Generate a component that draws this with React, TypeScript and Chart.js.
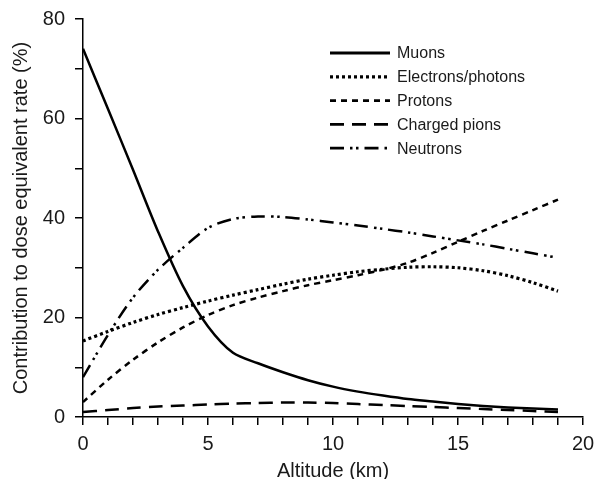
import React, { useEffect, useRef } from "react";
import { Chart, registerables } from "chart.js";

Chart.register(...registerables);

const altitudes = [0, 1, 2, 3, 4, 5, 6, 7, 8, 9, 10, 11, 12, 13, 14, 15, 16, 17, 18, 19];
const muons = [74, 61.9, 49.7, 37.3, 26.3, 18.2, 12.9, 10.8, 9.0, 7.4, 6.1, 5.1, 4.3, 3.6, 3.1, 2.6, 2.2, 1.9, 1.7, 1.5];
const electrons = [15.3, 17.2, 19, 20.6, 22, 23.3, 24.5, 25.6, 26.7, 27.7, 28.5, 29.2, 29.7, 30.1, 30.2, 30, 29.4, 28.4, 27, 25.3];
const protons = [3, 7.5, 11.5, 15, 18, 20.5, 22.5, 24, 25.3, 26.5, 27.5, 28.5, 29.6, 31, 33, 35.2, 37.4, 39.5, 41.6, 43.7];
const pions = [1, 1.4, 1.8, 2.1, 2.3, 2.5, 2.7, 2.8, 2.9, 2.9, 2.8, 2.6, 2.4, 2.2, 2.0, 1.8, 1.6, 1.4, 1.2, 1.0];
const neutrons = [8, 16.5, 24, 29.6, 34, 38, 39.8, 40.3, 40.2, 39.7, 39.1, 38.5, 37.8, 37.1, 36.3, 35.5, 34.7, 33.8, 32.9, 32];

const seriesNames = ["Muons", "Electrons/photons", "Protons", "Charged pions", "Neutrons"];
const xTitle = "Altitude (km)";
const yTitle = "Contribution to dose equivalent rate (%)";

const FONT = "'Liberation Sans', Arial, Helvetica, sans-serif";

const styles = [
  { dash: [], width: 2.5 },
  { dash: [3, 3], width: 3.2 },
  { dash: [6, 5], width: 2.5 },
  { dash: [14, 8], width: 2.5 },
  { dash: [14, 6, 2.5, 3.5, 2.5, 6], width: 2.5 },
];

const legendPlugin = {
  id: "customLegend",
  afterDraw(chart: any) {
    const { ctx, chartArea } = chart;
    const x0 = chartArea.right - 253;
    const x1 = x0 + 60;
    const tx = x1 + 7;
    const y0 = chartArea.top + 34;
    const dy = 23.8;
    ctx.save();
    ctx.font = `16px ${FONT}`;
    ctx.fillStyle = "#1a1a1a";
    ctx.textBaseline = "middle";
    ctx.textAlign = "left";
    seriesNames.forEach((name, i) => {
      const y = y0 + i * dy;
      ctx.beginPath();
      ctx.setLineDash(styles[i].dash);
      ctx.lineWidth = i === 1 ? 3.2 : 2.8;
      ctx.strokeStyle = "#000";
      ctx.lineCap = "butt";
      ctx.moveTo(x0, y);
      ctx.lineTo(x1, y);
      ctx.stroke();
      ctx.setLineDash([]);
      ctx.fillText(name, tx, y + 1);
    });
    ctx.restore();
  },
};

export default function App() {
  const ref = useRef<HTMLCanvasElement | null>(null);

  useEffect(() => {
    document.body.style.margin = "0";
    const canvas = ref.current;
    if (!canvas) return;
    const seriesData = [muons, electrons, protons, pions, neutrons];
    const chart = new Chart(canvas, {
      type: "line",
      data: {
        datasets: seriesData.map((vals, i) => ({
          label: seriesNames[i],
          data: altitudes.map((x, j) => ({ x, y: vals[j] })),
          borderColor: "#000",
          backgroundColor: "#000",
          borderWidth: styles[i].width,
          borderDash: styles[i].dash,
          borderCapStyle: "butt" as const,
          pointRadius: 0,
          tension: 0.3,
          fill: false,
        })),
      },
      options: {
        responsive: false,
        animation: false,
        devicePixelRatio: 1,
        layout: { padding: { left: 0, top: 19, right: 13, bottom: 0 } },
        plugins: { legend: { display: false }, tooltip: { enabled: false } },
        scales: {
          x: {
            type: "linear",
            min: 0,
            max: 20,
            afterFit: (s: any) => {
              s.height = 62;
              s.paddingRight = 0;
              s.paddingLeft = 0;
            },
            ticks: {
              stepSize: 1,
              autoSkip: false,
              maxRotation: 0,
              padding: 7,
              color: "#1a1a1a",
              font: { family: FONT, size: 20 },
              callback: (v: any) => (Number(v) % 5 === 0 ? String(v) : ""),
            },
            grid: {
              drawOnChartArea: false,
              drawTicks: true,
              tickLength: 8,
              color: "#000",
              lineWidth: 1.5,
            },
            border: { display: true, color: "#000", width: 1.5 },
            title: {
              display: true,
              text: xTitle,
              color: "#1a1a1a",
              font: { family: FONT, size: 20 },
              padding: { top: 0, bottom: -4 },
            },
          },
          y: {
            type: "linear",
            min: 0,
            max: 80,
            afterFit: (s: any) => {
              s.width = 83;
              s.paddingTop = 0;
              s.paddingBottom = 0;
            },
            ticks: {
              stepSize: 10,
              autoSkip: false,
              padding: 10,
              color: "#1a1a1a",
              font: { family: FONT, size: 20 },
              callback: (v: any) => (Number(v) % 20 === 0 ? String(v) : ""),
            },
            grid: {
              drawOnChartArea: false,
              drawTicks: true,
              tickLength: 8,
              color: "#000",
              lineWidth: 1.5,
            },
            border: { display: true, color: "#000", width: 1.5 },
            title: {
              display: true,
              text: yTitle,
              color: "#1a1a1a",
              font: { family: FONT, size: 20 },
              padding: { top: 9, bottom: 0 },
            },
          },
        },
      },
      plugins: [legendPlugin],
    });
    return () => chart.destroy();
  }, []);

  return (
    <canvas
      ref={ref}
      width={596}
      height={479}
      style={{ position: "fixed", left: 0, top: 0, width: 596, height: 479 }}
    />
  );
}
